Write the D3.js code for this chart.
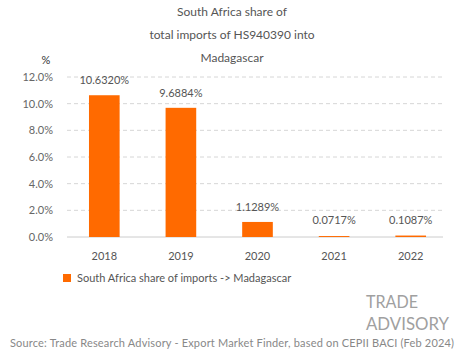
<!DOCTYPE html>
<html>
<head>
<meta charset="utf-8">
<script src="https://cdn.jsdelivr.net/npm/d3@7"></script>
<style>
  body { margin: 0; background: #fff; }
  text { font-family: Lato, "Open Sans", sans-serif; }
</style>
</head>
<body>
<div id="chart"></div>
<script>
const years = ["2018", "2019", "2020", "2021", "2022"];
const shares = [10.632, 9.6884, 1.1289, 0.0717, 0.1087];
const yTicks = [0, 2, 4, 6, 8, 10, 12];
const titleLines = ["South Africa share of", "total imports of HS940390 into", "Madagascar"];
const seriesName = "South Africa share of imports -> Madagascar";
const sourceText = "Source: Trade Research Advisory - Export Market Finder, based on CEPII BACI (Feb 2024)";

const W = 465, H = 359;
const margin = { top: 77, left: 66, right: 16, bottom: 122 };
const orange = "#ff6a00";

const svg = d3.select("#chart").append("svg")
    .attr("width", W).attr("height", H);

// title
svg.selectAll(".title")
    .data(titleLines)
    .enter().append("text")
    .attr("x", 232).attr("y", (d, i) => 16 + i * 23)
    .attr("text-anchor", "middle")
    .attr("font-size", 12)
    .attr("fill", "#555")
    .text(d => d);

let x = d3.scaleBand()
    .domain(years)
    .range([margin.left, W - margin.right])
    .paddingInner(0.6).paddingOuter(0.3);
let y = d3.scaleLinear()
    .domain([0, 12])
    .range([H - margin.bottom, margin.top]);

// gridlines
svg.selectAll(".grid")
    .data(yTicks)
    .enter().append("line")
    .attr("x1", 67).attr("x2", 443)
    .attr("y1", d => y(d)).attr("y2", d => y(d))
    .attr("stroke", d => d == 0 ? "#ccc" : "#d6d6d6")
    .attr("stroke-dasharray", d => d == 0 ? null : "4,3");

// y labels
svg.selectAll(".ylab")
    .data(yTicks)
    .enter().append("text")
    .attr("x", 53).attr("y", d => y(d) + 4)
    .attr("text-anchor", "end")
    .attr("font-size", 11)
    .attr("fill", "#666")
    .text(d => d.toFixed(1) + "%");
svg.append("text")
    .attr("x", 46).attr("y", 64)
    .attr("text-anchor", "middle")
    .attr("font-size", 11).attr("fill", "#333")
    .text("%");

// bars
svg.selectAll(".bar")
    .data(shares)
    .enter().append("rect")
    .attr("x", (d, i) => x(years[i]))
    .attr("width", x.bandwidth())
    .attr("y", d => y(d))
    .attr("height", d => y(0) - y(d))
    .attr("fill", orange);

// value labels
svg.selectAll(".val")
    .data(shares)
    .enter().append("text")
    .attr("x", (d, i) => x(years[i]) + x.bandwidth() / 2)
    .attr("y", d => Math.min(y(d) - 11, y(0) - 13))
    .attr("text-anchor", "middle")
    .attr("font-size", 11).attr("fill", "#555")
    .text(d => d.toFixed(4) + "%");

// x labels
svg.selectAll(".xlab")
    .data(years)
    .enter().append("text")
    .attr("x", d => x(d) + x.bandwidth() / 2)
    .attr("y", 260)
    .attr("text-anchor", "middle")
    .attr("font-size", 11).attr("fill", "#555")
    .text(d => d);

// legend
svg.append("rect")
    .attr("x", 63).attr("y", 274).attr("width", 8).attr("height", 8)
    .attr("fill", orange);
svg.append("text")
    .attr("x", 77).attr("y", 282)
    .attr("font-size", 11).attr("fill", "#555")
    .text(seriesName);

// logo
let logo = svg.append("g").attr("fill", "#a0a0a0").attr("font-size", 18)
    .style("font-family", "'DejaVu Sans Condensed', 'Liberation Sans Narrow', sans-serif");
logo.append("text").attr("x", 366).attr("y", 308).attr("textLength", 52)
    .attr("lengthAdjust", "spacingAndGlyphs").text("TRADE");
logo.append("text").attr("x", 366).attr("y", 330).attr("textLength", 83)
    .attr("lengthAdjust", "spacingAndGlyphs").text("ADVISORY");

// source
svg.append("text")
    .attr("x", 232).attr("y", 347)
    .attr("text-anchor", "middle")
    .attr("font-size", 11).attr("fill", "#888")
    .attr("textLength", 444)
    .text(sourceText);
</script>
</body>
</html>
